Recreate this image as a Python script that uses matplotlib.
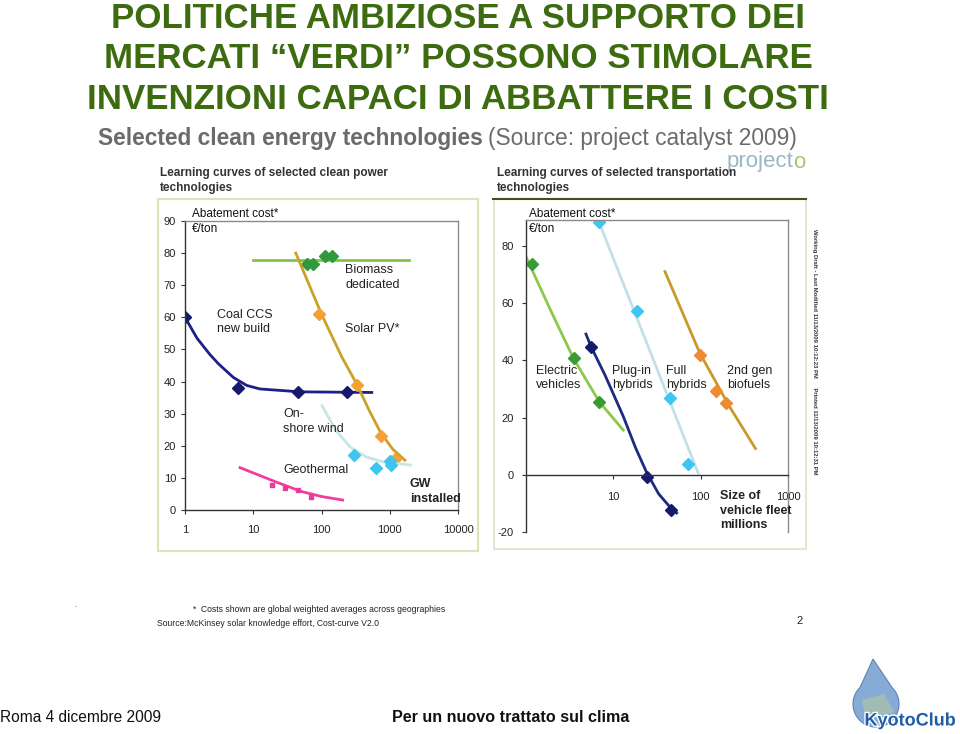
import numpy as np
import matplotlib.pyplot as plt
from matplotlib.patches import Rectangle, Polygon
import matplotlib.patheffects as pe

W, H = 960, 734

# Left chart: learning curves of selected clean power technologies (x: GW installed, log)
coal_x = [1, 1.5, 2.3, 3.1, 5.1, 8, 12.5, 48, 545]
coal_y = [60, 53.5, 48.5, 45.5, 41.3, 38.8, 37.7, 36.8, 36.6]
coal_mx = [1, 6.0, 44.7, 233]
coal_my = [60, 38, 36.9, 36.9]

biomass_x = [10, 1900]
biomass_y = [78, 78]
biomass_mx = [62, 75, 112, 141]
biomass_my = [76.5, 76.5, 79.2, 79.2]

solar_x = [42, 100, 200, 333, 500, 740, 1100, 1670]
solar_y = [80, 61, 47.5, 39, 31, 24, 19, 15.5]
solar_mx = [92, 333, 740, 1200]
solar_my = [61, 39, 23, 16]

wind_x = [102, 160, 263, 457, 800, 2000]
wind_y = [32.5, 25, 19.6, 16.5, 15, 14]
wind_mx = [300, 620, 1000, 1050]
wind_my = [17, 13.2, 15.4, 14]

geo_x = [6.4, 20, 50, 100, 204]
geo_y = [13.2, 9, 5.8, 4.2, 3.1]
geo_mx = [19, 29, 46, 69]
geo_my = [7.7, 6.9, 6.2, 4.1]

left_yticks = [0, 10, 20, 30, 40, 50, 60, 70, 80, 90]
left_xticks = [1, 10, 100, 1000, 10000]

# Right chart: learning curves of selected transportation technologies (x: vehicle fleet, millions)
ev_x = [1.0, 1.88, 3.5, 6.9, 13]
ev_y = [76.2, 58, 40.7, 25.6, 15.7]
ev_mx = [1.16, 3.5, 6.9]
ev_my = [73.5, 40.7, 25.6]

phev_x = [4.86, 5.6, 8, 13, 18, 24, 33, 45.6, 53]
phev_y = [49.2, 44.6, 35, 20.5, 9.5, 1, -6.5, -11.5, -13.2]
phev_mx = [5.6, 24, 45.6]
phev_my = [44.6, -0.6, -12]

hev_x = [6.7, 94]
hev_y = [89, 0.6]
hev_mx = [6.8, 18.5, 44.6, 70.7]
hev_my = [88.4, 57.4, 26.8, 3.8]

bio_x = [39, 98, 215, 424]
bio_y = [71, 42.5, 23.8, 9.3]
bio_mx = [98, 148, 194]
bio_my = [41.9, 29.4, 25.2]

right_yticks = [-20, 0, 20, 40, 60, 80]
right_xticks = [10, 100, 1000]

NARROW = ['Liberation Sans Narrow', 'Liberation Sans', 'DejaVu Sans']
SANS = ['Liberation Sans', 'DejaVu Sans']
plt.rcParams['font.family'] = SANS
plt.rcParams['axes.unicode_minus'] = False


def fx(x):
    return x / W


def fy(y):
    return 1 - y / H


def box(x0, y0, x1, y1):
    return [fx(x0), fy(y1), (x1 - x0) / W, (y1 - y0) / H]


def label(x, y, lines, size=9, weight='normal', color='#222222', fam=SANS):
    for i, s in enumerate(lines):
        fig.text(fx(x), fy(y + i * 14.5), s, fontsize=size, fontweight=weight,
                 color=color, va='center', ha='left', family=fam)


fig = plt.figure(figsize=(9.6, 7.34), dpi=100)

# background layer in pixel coordinates (panel frames, logo)
bg = fig.add_axes([0, 0, 1, 1], zorder=0)
bg.set_xlim(0, W)
bg.set_ylim(H, 0)
bg.axis('off')
bg.add_patch(Rectangle((158, 199), 320, 352, fill=False, ec='#dfe3ba', lw=1.6))
bg.add_patch(Rectangle((494, 199), 312, 350, fill=False, ec='#e4e7cc', lw=1.4))
bg.plot([493, 806], [199, 199], color='#4b4b20', lw=1.5)

# Kyoto Club logo: water drop
t = np.linspace(0, 2 * np.pi, 160)
cx, cy, r = 876, 704, 23
drop = [(cx + r * np.sin(a), cy + r * np.cos(a)) for a in t if abs(np.sin(a / 2)) < 0.93]
drop = [(873, 659)] + sorted(drop, key=lambda p: np.arctan2(p[0] - cx, p[1] - cy))
bg.add_patch(Polygon(drop, closed=True, fc='#86acd6', ec='#5b86b8', lw=0.8))
bg.add_patch(Polygon([(862, 700), (884, 694), (894, 712), (866, 722)], closed=True,
                     fc='#b9c99a', ec='none', alpha=0.55))

# ---------- left chart ----------
ax1 = fig.add_axes(box(185, 221, 458, 510), zorder=2)
ax1.set_xscale('log')
ax1.set_xlim(1, 10000)
ax1.set_ylim(0, 90)
ax1.plot(coal_x, coal_y, color='#1b2088', lw=2)
ax1.plot(coal_mx, coal_my, 'D', color='#151a6e', ms=6.5)
ax1.plot(biomass_x, biomass_y, color='#86c24a', lw=2)
ax1.plot(biomass_mx, biomass_my, 'D', color='#2f9a3c', ms=6)
ax1.plot(solar_x, solar_y, color='#c9a227', lw=2)
ax1.plot(solar_mx, solar_my, 'D', color='#f5a033', ms=6.5)
ax1.plot(wind_x, wind_y, color='#c5e6e4', lw=2)
ax1.plot(wind_mx, wind_my, 'D', color='#3ec6f0', ms=6.5)
ax1.plot(geo_x, geo_y, color='#ee3f9c', lw=2)
ax1.plot(geo_mx, geo_my, 's', color='#e83c9b', ms=3.5)
ax1.set_yticks(left_yticks)
ax1.set_xticks(left_xticks)
ax1.set_xticklabels([str(v) for v in left_xticks])
ax1.minorticks_off()

# ---------- right chart ----------
ax2 = fig.add_axes(box(526, 220, 788, 532.5), zorder=2)
ax2.set_xscale('log')
ax2.set_xlim(1, 1000)
ax2.set_ylim(-20, 89)
ax2.plot(ev_x, ev_y, color='#8cc84b', lw=2)
ax2.plot(ev_mx, ev_my, 'D', color='#3c9a34', ms=6)
ax2.plot(phev_x, phev_y, color='#1c2a80', lw=2)
ax2.plot(phev_mx, phev_my, 'D', color='#151a6e', ms=6.5)
ax2.plot(hev_x, hev_y, color='#c2dfea', lw=2)
ax2.plot(hev_mx, hev_my, 'D', color='#3ec6f0', ms=6.5)
ax2.plot(bio_x, bio_y, color='#c9992a', lw=2)
ax2.plot(bio_mx, bio_my, 'D', color='#f08a30', ms=6.5)
ax2.set_yticks(right_yticks)
ax2.set_xticks(right_xticks)
ax2.set_xticklabels([str(v) for v in right_xticks])
ax2.minorticks_off()
ax2.spines['bottom'].set_position(('data', 0))

for ax in (ax1, ax2):
    ax.spines['top'].set_color('#8a8a8a')
    ax.spines['right'].set_color('#8a8a8a')
    ax.spines['left'].set_color('#333333')
    ax.spines['bottom'].set_color('#333333')
    for s in ax.spines.values():
        s.set_linewidth(1.0)
    ax.tick_params(length=3, width=0.8, color='#333333', labelsize=8,
                   labelcolor='#222222')
    for tl in ax.get_xticklabels() + ax.get_yticklabels():
        tl.set_family(NARROW)
ax1.tick_params(axis='x', pad=8)
ax2.tick_params(axis='x', pad=9)
ax2.tick_params(axis='y', pad=6)

# ---------- slide texts ----------
title_lines = ['POLITICHE AMBIZIOSE A SUPPORTO DEI',
               'MERCATI \u201cVERDI\u201d POSSONO STIMOLARE',
               'INVENZIONI CAPACI DI ABBATTERE I COSTI']
for i, s in enumerate(title_lines):
    fig.text(fx(458), fy(28 + i * 40.5), s, ha='center', va='baseline', fontsize=25.1,
             fontweight='bold', color='#3d6b0f')

fig.text(fx(727), fy(162), 'project', fontsize=16, color='#97b7c8', va='center', zorder=1)
fig.text(fx(793), fy(162), 'o', fontsize=16, color='#a3c86f', va='center', zorder=1)
fig.text(fx(98), fy(139), 'Selected clean energy technologies', fontsize=16.4,
         fontweight='bold', color='#6b6b6b', va='center', ha='left', zorder=3)
fig.text(fx(797), fy(139), '(Source: project catalyst 2009)', fontsize=16.4,
         color='#6b6b6b', va='center', ha='right', zorder=3)

label(160, 173, ['Learning curves of selected clean power', 'technologies'],
      size=8.5, weight='bold', color='#333333', fam=NARROW)
label(497, 173, ['Learning curves of selected transportation', 'technologies'],
      size=8.5, weight='bold', color='#333333', fam=NARROW)

label(192, 214, ['Abatement cost*', '\u20ac/ton'], size=8.5, color='#111111')
label(345, 270, ['Biomass', 'dedicated'])
label(217, 315, ['Coal CCS', 'new build'])
label(345, 329, ['Solar PV*'])
label(283, 414, ['On-', 'shore wind'])
label(283, 470, ['Geothermal'])
label(410, 484, ['GW', 'installed'], weight='bold')

label(529, 214, ['Abatement cost*', '\u20ac/ton'], size=8.5, color='#111111')
label(536, 371, ['Electric', 'vehicles'])
label(612, 371, ['Plug-in', 'hybrids'])
label(666, 371, ['Full', 'hybrids'])
label(727, 371, ['2nd gen', 'biofuels'])
label(720, 496, ['Size of', 'vehicle fleet', 'millions'], weight='bold')

fig.text(fx(815), fy(352), 'Working Draft - Last Modified 11/13/2009 10:12:23 PM'
         '      Printed 11/13/2009 10:12:31 PM', rotation=-90, fontsize=4.2,
         fontweight='bold', color='#333333', ha='center', va='center')

fig.text(fx(75), fy(607), '-', fontsize=5, color='#999999', va='center')
fig.text(fx(193), fy(609), '*  Costs shown are global weighted averages across geographies',
         fontsize=6.2, color='#222222', va='center', family=NARROW)
fig.text(fx(157), fy(624), 'Source:McKinsey solar knowledge effort, Cost-curve V2.0',
         fontsize=6.2, color='#222222', va='center', family=NARROW)
fig.text(fx(800), fy(621), '2', fontsize=8, color='#222222', va='center', ha='center')

fig.text(fx(0), fy(717), 'Roma 4 dicembre 2009', fontsize=11.2, color='#111111',
         va='center', ha='left')
fig.text(fx(511), fy(717), 'Per un nuovo trattato sul clima', fontsize=11.6,
         fontweight='bold', color='#111111', va='center', ha='center')
fig.text(fx(910), fy(721), 'KyotoClub', fontsize=13, fontweight='bold', color='#1f5fa8',
         va='center', ha='center',
         path_effects=[pe.withStroke(linewidth=2, foreground='white')])

fig.savefig('out.png', dpi=100)
